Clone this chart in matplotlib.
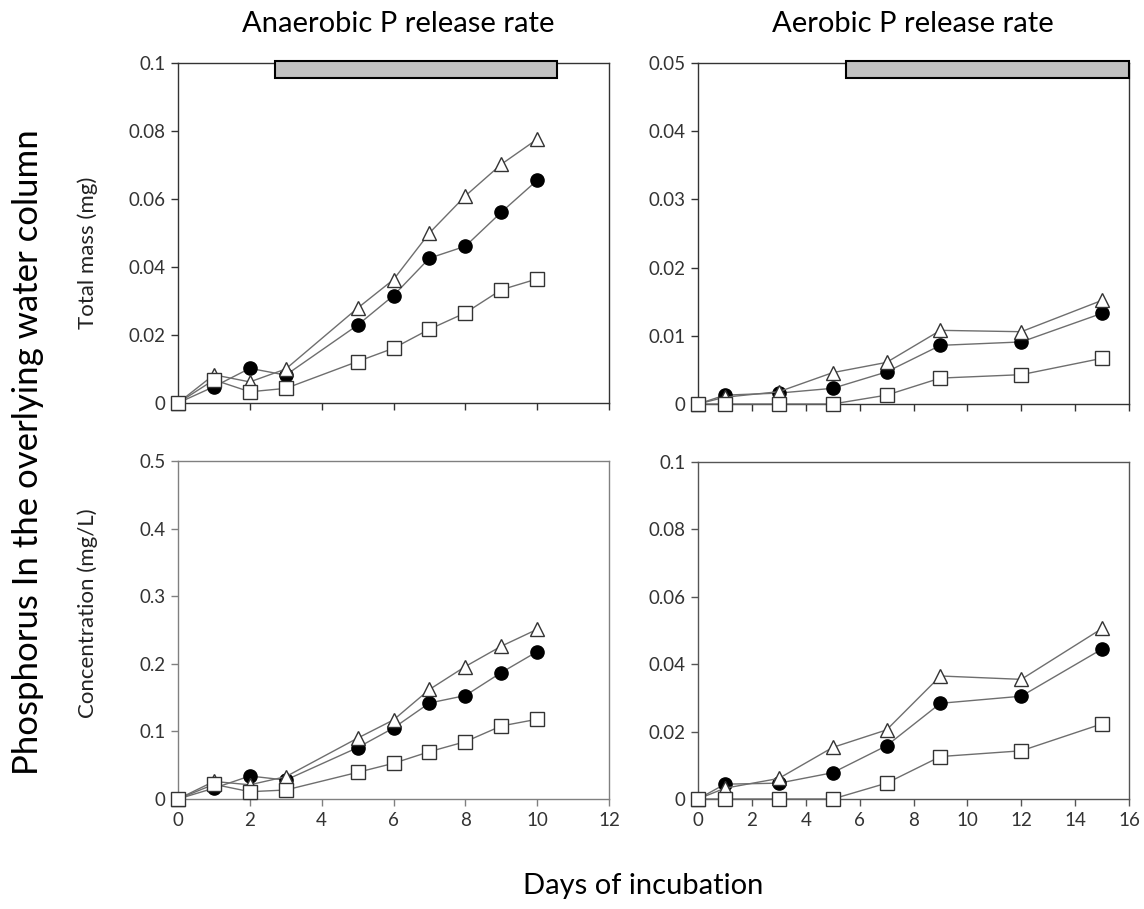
import matplotlib
matplotlib.use("Agg")
import matplotlib.pyplot as plt
from matplotlib.patches import Rectangle

plt.rcParams['font.family'] = ['Lato', 'DejaVu Sans']

# anaerobic incubation (days 0-10)
days_an = [0, 1, 2, 3, 5, 6, 7, 8, 9, 10]
mass_an_tri = [0, 0.0083, 0.0062, 0.0100, 0.0279, 0.0363, 0.0500, 0.0609, 0.0702, 0.0776]
mass_an_circ = [0, 0.0048, 0.0102, 0.0082, 0.0229, 0.0316, 0.0426, 0.0461, 0.0561, 0.0655]
mass_an_sq = [0, 0.0068, 0.0033, 0.0043, 0.0122, 0.0161, 0.0217, 0.0265, 0.0333, 0.0365]
conc_an_tri = [0, 0.026, 0.021, 0.033, 0.090, 0.117, 0.162, 0.196, 0.226, 0.251]
conc_an_circ = [0, 0.016, 0.034, 0.028, 0.076, 0.105, 0.142, 0.153, 0.187, 0.218]
conc_an_sq = [0, 0.0217, 0.0108, 0.0133, 0.0394, 0.0528, 0.070, 0.0848, 0.108, 0.118]

# aerobic incubation (days 0-15)
days_ae = [0, 1, 3, 5, 7, 9, 12, 15]
mass_ae_tri = [0, 0.0010, 0.0018, 0.0046, 0.0061, 0.0108, 0.0106, 0.0152]
mass_ae_circ = [0, 0.0013, 0.0016, 0.0023, 0.0047, 0.0086, 0.0091, 0.0133]
mass_ae_sq = [0, 0, 0, 0, 0.0013, 0.0038, 0.0043, 0.0067]
conc_ae_tri = [0, 0.0032, 0.0061, 0.0153, 0.0205, 0.0365, 0.0355, 0.0506]
conc_ae_circ = [0, 0.0044, 0.0047, 0.0078, 0.0158, 0.0284, 0.0305, 0.0445]
conc_ae_sq = [0, 0, 0, 0, 0.0047, 0.0126, 0.0143, 0.0223]

fig = plt.figure(figsize=(11.44, 9.09), dpi=100)
W, H = 1144, 909

def make_ax(l, t, r, b):
    return fig.add_axes([l / W, 1 - b / H, (r - l) / W, (b - t) / H])

ax_tl = make_ax(178, 63, 609, 403)
ax_tr = make_ax(698, 63, 1129, 404)
ax_bl = make_ax(178, 461, 609, 799)
ax_br = make_ax(698, 462, 1129, 799)

def draw(ax, x, tri, circ, sq):
    lc = '#6e6e6e'
    ax.plot(x, circ, '-', color=lc, lw=1, marker='o', ms=9.5, mfc='black', mec='black', clip_on=False, zorder=3)
    ax.plot(x, tri, '-', color=lc, lw=1, marker='^', ms=10.5, mfc='white', mec='#333333', mew=1, clip_on=False, zorder=4)
    ax.plot(x, sq, '-', color=lc, lw=1, marker='s', ms=9.5, mfc='white', mec='#333333', mew=1, clip_on=False, zorder=5)

def style(ax, xmax, ymax, ystep, xlabels, spine_col):
    ax.set_xlim(0, xmax)
    ax.set_ylim(0, ymax)
    ax.set_xticks(range(0, xmax + 1, 2))
    yt = [round(i * ystep, 4) for i in range(int(round(ymax / ystep)) + 1)]
    ax.set_yticks(yt)
    ax.set_yticklabels(['0' if v == 0 else f'{v:g}' for v in yt])
    if not xlabels:
        ax.set_xticklabels([])
    for s in ax.spines.values():
        s.set_color(spine_col)
        s.set_linewidth(1)
    ax.tick_params(direction='out', length=5, width=1, color=spine_col,
                   labelsize=13.5, labelcolor='#333333', pad=4)

draw(ax_tl, days_an, mass_an_tri, mass_an_circ, mass_an_sq)
draw(ax_tr, days_ae, mass_ae_tri, mass_ae_circ, mass_ae_sq)
draw(ax_bl, days_an, conc_an_tri, conc_an_circ, conc_an_sq)
draw(ax_br, days_ae, conc_ae_tri, conc_ae_circ, conc_ae_sq)

style(ax_tl, 12, 0.1, 0.02, False, '#333333')
style(ax_tr, 16, 0.05, 0.01, False, '#333333')
style(ax_bl, 12, 0.5, 0.1, True, '#808080')
style(ax_br, 16, 0.1, 0.02, True, '#555555')

# shaded period bars along the top of the mass panels
ax_tl.add_patch(Rectangle((2.7, 0.0956), 10.55 - 2.7, 0.0049, facecolor='#c0c0c0',
                          edgecolor='black', lw=1.5, clip_on=False, zorder=6))
ax_tr.add_patch(Rectangle((5.5, 0.0478), 16 - 5.5, 0.00245, facecolor='#c0c0c0',
                          edgecolor='black', lw=1.5, clip_on=False, zorder=6))

fig.text(398 / W, 1 - 24 / H, 'Anaerobic P release rate', ha='center', va='center', fontsize=21)
fig.text(913 / W, 1 - 24 / H, 'Aerobic P release rate', ha='center', va='center', fontsize=21)
fig.text(88 / W, 1 - 253 / H, 'Total mass (mg)', rotation=90, ha='center', va='center', fontsize=16, color='#222222')
fig.text(88 / W, 1 - 613 / H, 'Concentration (mg/L)', rotation=90, ha='center', va='center', fontsize=16, color='#222222')
fig.text(28 / W, 1 - 452 / H, 'Phosphorus In the overlying water column', rotation=90,
         ha='center', va='center', fontsize=25)
fig.text(643 / W, 1 - 886 / H, 'Days of incubation', ha='center', va='center', fontsize=21)

fig.savefig('out.png', dpi=100)
